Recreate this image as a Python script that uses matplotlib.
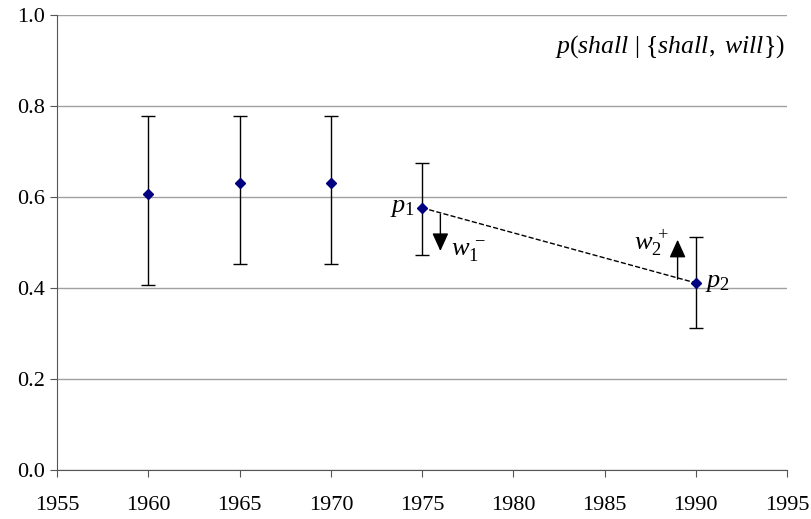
import numpy as np
import matplotlib
matplotlib.use("Agg")
import matplotlib.pyplot as plt

plt.rcParams['font.family'] = ['Liberation Serif']
plt.rcParams['mathtext.fontset'] = 'custom'
plt.rcParams['mathtext.rm'] = 'Liberation Serif'
plt.rcParams['mathtext.it'] = 'Liberation Serif:italic'

years = [1960, 1965, 1970, 1975, 1990]
p_vals = [0.607, 0.631, 0.631, 0.576, 0.411]
upper = [0.778, 0.778, 0.778, 0.675, 0.512]
lower = [0.407, 0.453, 0.453, 0.473, 0.312]

# arrows (x, start, end)
w1 = (1976, 0.568, 0.475)
w2 = (1989, 0.413, 0.512)

fig = plt.figure(figsize=(8.11, 5.19), dpi=100)
ax = fig.add_axes([0.0705, 0.0944, 0.900, 0.877])

yerr = [np.array(p_vals) - np.array(lower), np.array(upper) - np.array(p_vals)]
ax.errorbar(years, p_vals, yerr=yerr, fmt='D', color='#000080', ms=5,
            ecolor='black', elinewidth=1, capsize=5, capthick=1, zorder=3)

ax.plot([years[3], years[4]], [p_vals[3], p_vals[4]], '--', color='black', lw=1, zorder=2)

arrow_style = dict(arrowstyle='-|>,head_length=1.1,head_width=0.5', color='black', lw=1)
ax.annotate('', xy=(w1[0], w1[2]), xytext=(w1[0], w1[1]), arrowprops=arrow_style)
ax.annotate('', xy=(w2[0], w2[2]), xytext=(w2[0], w2[1]), arrowprops=arrow_style)

ax.text(1974.6, p_vals[3], r'$p_1$', fontsize=19, ha='right', va='center')
ax.text(1990.5, p_vals[4], r'$p_2$', fontsize=19, ha='left', va='center')
ax.text(1976.6, 0.482, r'$w_1^{\,-}$', fontsize=19, ha='left', va='center')
ax.text(1988.5, 0.5, r'$w_2^{\,+}$', fontsize=19, ha='right', va='center')

ax.text(0.997, 0.93, r'$\mathit{p}(\mathit{shall}\ \mathrm{|}\ \{\mathit{shall},\ \mathit{will}\})$',
        transform=ax.transAxes, fontsize=18.5, ha='right', va='center')

ax.set_xlim(1955, 1995)
ax.set_ylim(0, 1.0)
ax.set_xticks(np.arange(1955, 1996, 5))
ax.set_yticks(np.arange(0, 1.01, 0.2))
ax.set_yticklabels([f'{v:.1f}' for v in np.arange(0, 1.01, 0.2)])
ax.tick_params(labelsize=16, direction='out', length=5, color='#555555')
ax.tick_params(axis='x', pad=14)
ax.tick_params(axis='y', pad=4)
ax.grid(axis='y', color='#a0a0a0', lw=1)
ax.set_axisbelow(True)
for s in ['top', 'right']:
    ax.spines[s].set_visible(False)
for s in ['left', 'bottom']:
    ax.spines[s].set_color('#555555')

fig.savefig('out.png', dpi=100)
